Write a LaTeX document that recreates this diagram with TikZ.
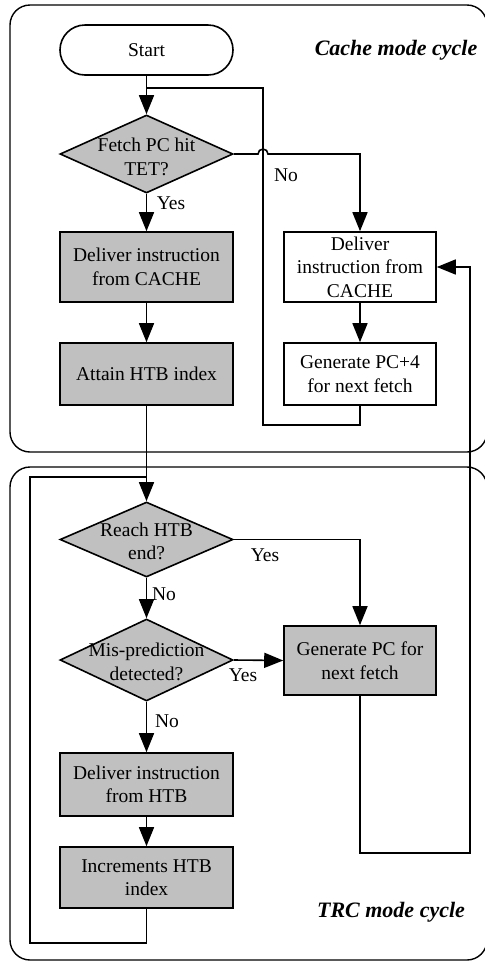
\documentclass[tikz,border=0pt]{standalone}
\usepackage{fontspec}
\setmainfont{Liberation Serif}
\usetikzlibrary{shapes.geometric,arrows.meta}
\definecolor{procgray}{RGB}{192,192,192}
\begin{document}
\begin{tikzpicture}[x=1pt,y=-1pt,
  line width=1.6pt,
  every node/.style={font=\fontsize{19.5}{23.5}\selectfont},
  flow/.style={-{Triangle[length=19pt,width=15pt]}},
  frame/.style={draw,line width=1.4pt,rounded corners=20pt},
  proc/.style={draw,fill=procgray,minimum width=173pt,inner sep=0pt,align=center},
  plain/.style={draw,fill=white,minimum width=152pt,inner sep=0pt,align=center},
  decide/.style={draw,fill=procgray,diamond,inner sep=0pt,minimum width=173pt},
  term/.style={draw,rounded corners=25pt,minimum width=173pt,minimum height=50pt,inner sep=0pt},
  lab/.style={inner sep=0pt},
  title/.style={font=\fontsize{22}{26}\selectfont\bfseries\itshape}
]
\useasboundingbox (0,0) rectangle (485,962);

% mode frames
\draw[frame] (10,5) rectangle (487,452);
\draw[frame] (10,467) rectangle (487,960);
\node[title] (tcache) at (396,50) {Cache mode cycle};
\node[title] (ttrc) at (391,912) {TRC mode cycle};

% cache mode cycle
\node[term] (start) at (146.5,50) {Start};
\node[decide,minimum height=78pt,label={[align=center,yshift=-3pt]center:Fetch PC hit\\TET?}] (d1) at (146.5,154) {};
\node[proc,minimum height=70pt] (dc) at (146.5,267) {Deliver instruction\\from CACHE};
\node[proc,minimum height=62pt] (ah) at (146.5,374) {Attain HTB index};
\node[plain,minimum height=70pt] (dcr) at (360,267) {Deliver\\instruction from\\CACHE};
\node[plain,minimum height=62pt] (gp4) at (360,374) {Generate PC+4\\for next fetch};

% TRC mode cycle
\node[decide,minimum height=75pt,label={[align=center,yshift=-2pt]center:Reach HTB\\end?}] (d2) at (146.5,539.5) {};
\node[decide,minimum height=82pt,label={[align=center,yshift=-2pt]center:Mis-prediction\\detected?}] (d3) at (146.5,660) {};
\node[proc,minimum width=152pt,minimum height=69pt] (gpc) at (360,660.5) {Generate PC for\\next fetch};
\node[proc,minimum height=63pt] (dh) at (146.5,784.5) {Deliver instruction\\from HTB};
\node[proc,minimum height=61pt] (inc) at (146.5,877.5) {Increments HTB\\index};

% routing points
\coordinate (j1) at (146.5,88);
\coordinate (lp1) at (263,425);
\coordinate (lp2) at (263,88);
\coordinate (jb) at (258,154);
\coordinate (tb) at (146.5,943);
\coordinate (tbl) at (30,943);
\coordinate (ttl) at (30,477);
\coordinate (ttj) at (146.5,477);
\coordinate (rb) at (470,853);

% connectors: cache mode
\draw[flow] (start.south) -- (d1.north);
\draw (gp4.south) |- (lp1) -- (lp2) -- (j1);
\draw[flow] (d1.east) -- (jb) arc[start angle=180,end angle=0,radius=5pt] -| (dcr.north);
\draw[flow] (d1.south) -- (dc.north);
\draw[flow] (dc.south) -- (ah.north);
\draw[flow] (dcr.south) -- (gp4.north);
\draw[flow] (ah.south) -- (d2.north);
\draw[flow] (gpc.south) |- (rb) |- (dcr.east);

% connectors: TRC mode
\draw[flow] (d2.east) -| (gpc.north);
\draw[flow] (d2.south) -- (d3.north);
\draw[flow] (d3.east) -- (gpc.west);
\draw[flow] (d3.south) -- (dh.north);
\draw[flow] (dh.south) -- (inc.north);
\draw (inc.south) -- (tb) -- (tbl) -- (ttl) -- (ttj);

% branch labels
\node[lab] (n1) at (286,175) {No};
\node[lab] (y1) at (171,203) {Yes};
\node[lab] (y2) at (265,555) {Yes};
\node[lab] (n2) at (164,594) {No};
\node[lab] (y3) at (243,675) {Yes};
\node[lab] (n3) at (167,721) {No};
\end{tikzpicture}
\end{document}
